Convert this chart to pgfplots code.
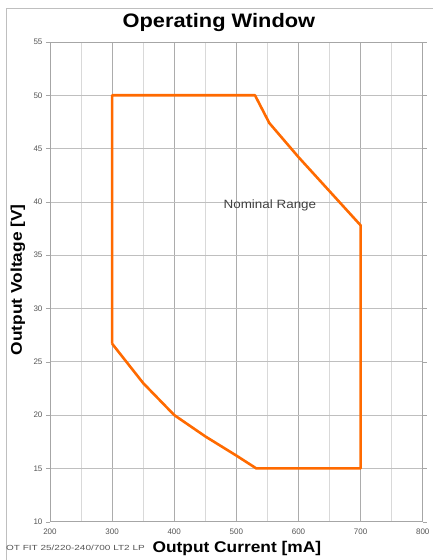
\documentclass[border=0pt]{standalone}
\usepackage{pgfplots}
\pgfplotsset{compat=1.18}
\usepackage{fontspec}
\setmainfont{Liberation Sans}
\newfontfamily\widefont[FakeStretch=1.12]{Liberation Sans}
\newfontfamily\widerfont[FakeStretch=1.35]{Liberation Sans}
\definecolor{winorange}{RGB}{255,106,0}
\definecolor{tickgray}{RGB}{85,85,85}
\begin{document}
\begin{tikzpicture}
\path (0pt,0pt) rectangle (433pt,560pt);
\draw[gray!50,line width=0.7pt] (6pt,0pt) -- (6pt,552pt) -- (433pt,552pt);
\node[font=\widefont\bfseries\fontsize{19.5}{22}\selectfont] at (219pt,537pt) {Operating Window};
\begin{axis}[
    at={(50pt,38pt)}, anchor=south west,
    width=373pt, height=480pt, scale only axis,
    xmin=200, xmax=800, ymin=10, ymax=55,
    xtick={200,300,...,800}, ytick={10,15,...,55},
    minor x tick num=1,
    grid=both,
    major grid style={gray!65,line width=0.6pt},
    minor grid style={gray!30,line width=0.6pt},
    y grid style={gray!50},
    axis line style={gray!70,line width=0.6pt},
    tick style={gray!70},
    minor tick length=0pt,
    xtick style={draw=none},
    ytick align=outside, major tick length=4pt,
    ticklabel style={font=\fontsize{8}{9}\selectfont, text=tickgray},
    xticklabel style={yshift=-4pt},
    /pgf/number format/assume math mode=true,
    clip=false,
]
\addplot[winorange, line width=2.6pt, line join=round] coordinates {
  (300,26.7) (300,50) (530,50) (553,47.4) (600,44.2) (650,41.0) (700,37.8)
  (700,15) (532,15) (500,16.2) (450,18.0) (400,20.0) (350,23.0) (300,26.7)
};
\node[font=\widefont\fontsize{12}{14}\selectfont, text=black!75] at (axis cs:554,39.7) {Nominal Range};
\end{axis}
\node[font=\widefont\bfseries\fontsize{15.5}{18}\selectfont] at (237pt,11pt) {Output Current [mA]};
\node[rotate=90, font=\widefont\bfseries\fontsize{15.5}{18}\selectfont] at (18pt,280pt) {Output Voltage [V]};
\node[anchor=west, inner sep=0pt, font=\widerfont\fontsize{7.4}{8}\selectfont, text=tickgray] at (6pt,12pt) {OT FIT 25/220-240/700 LT2 LP};
\end{tikzpicture}
\end{document}
